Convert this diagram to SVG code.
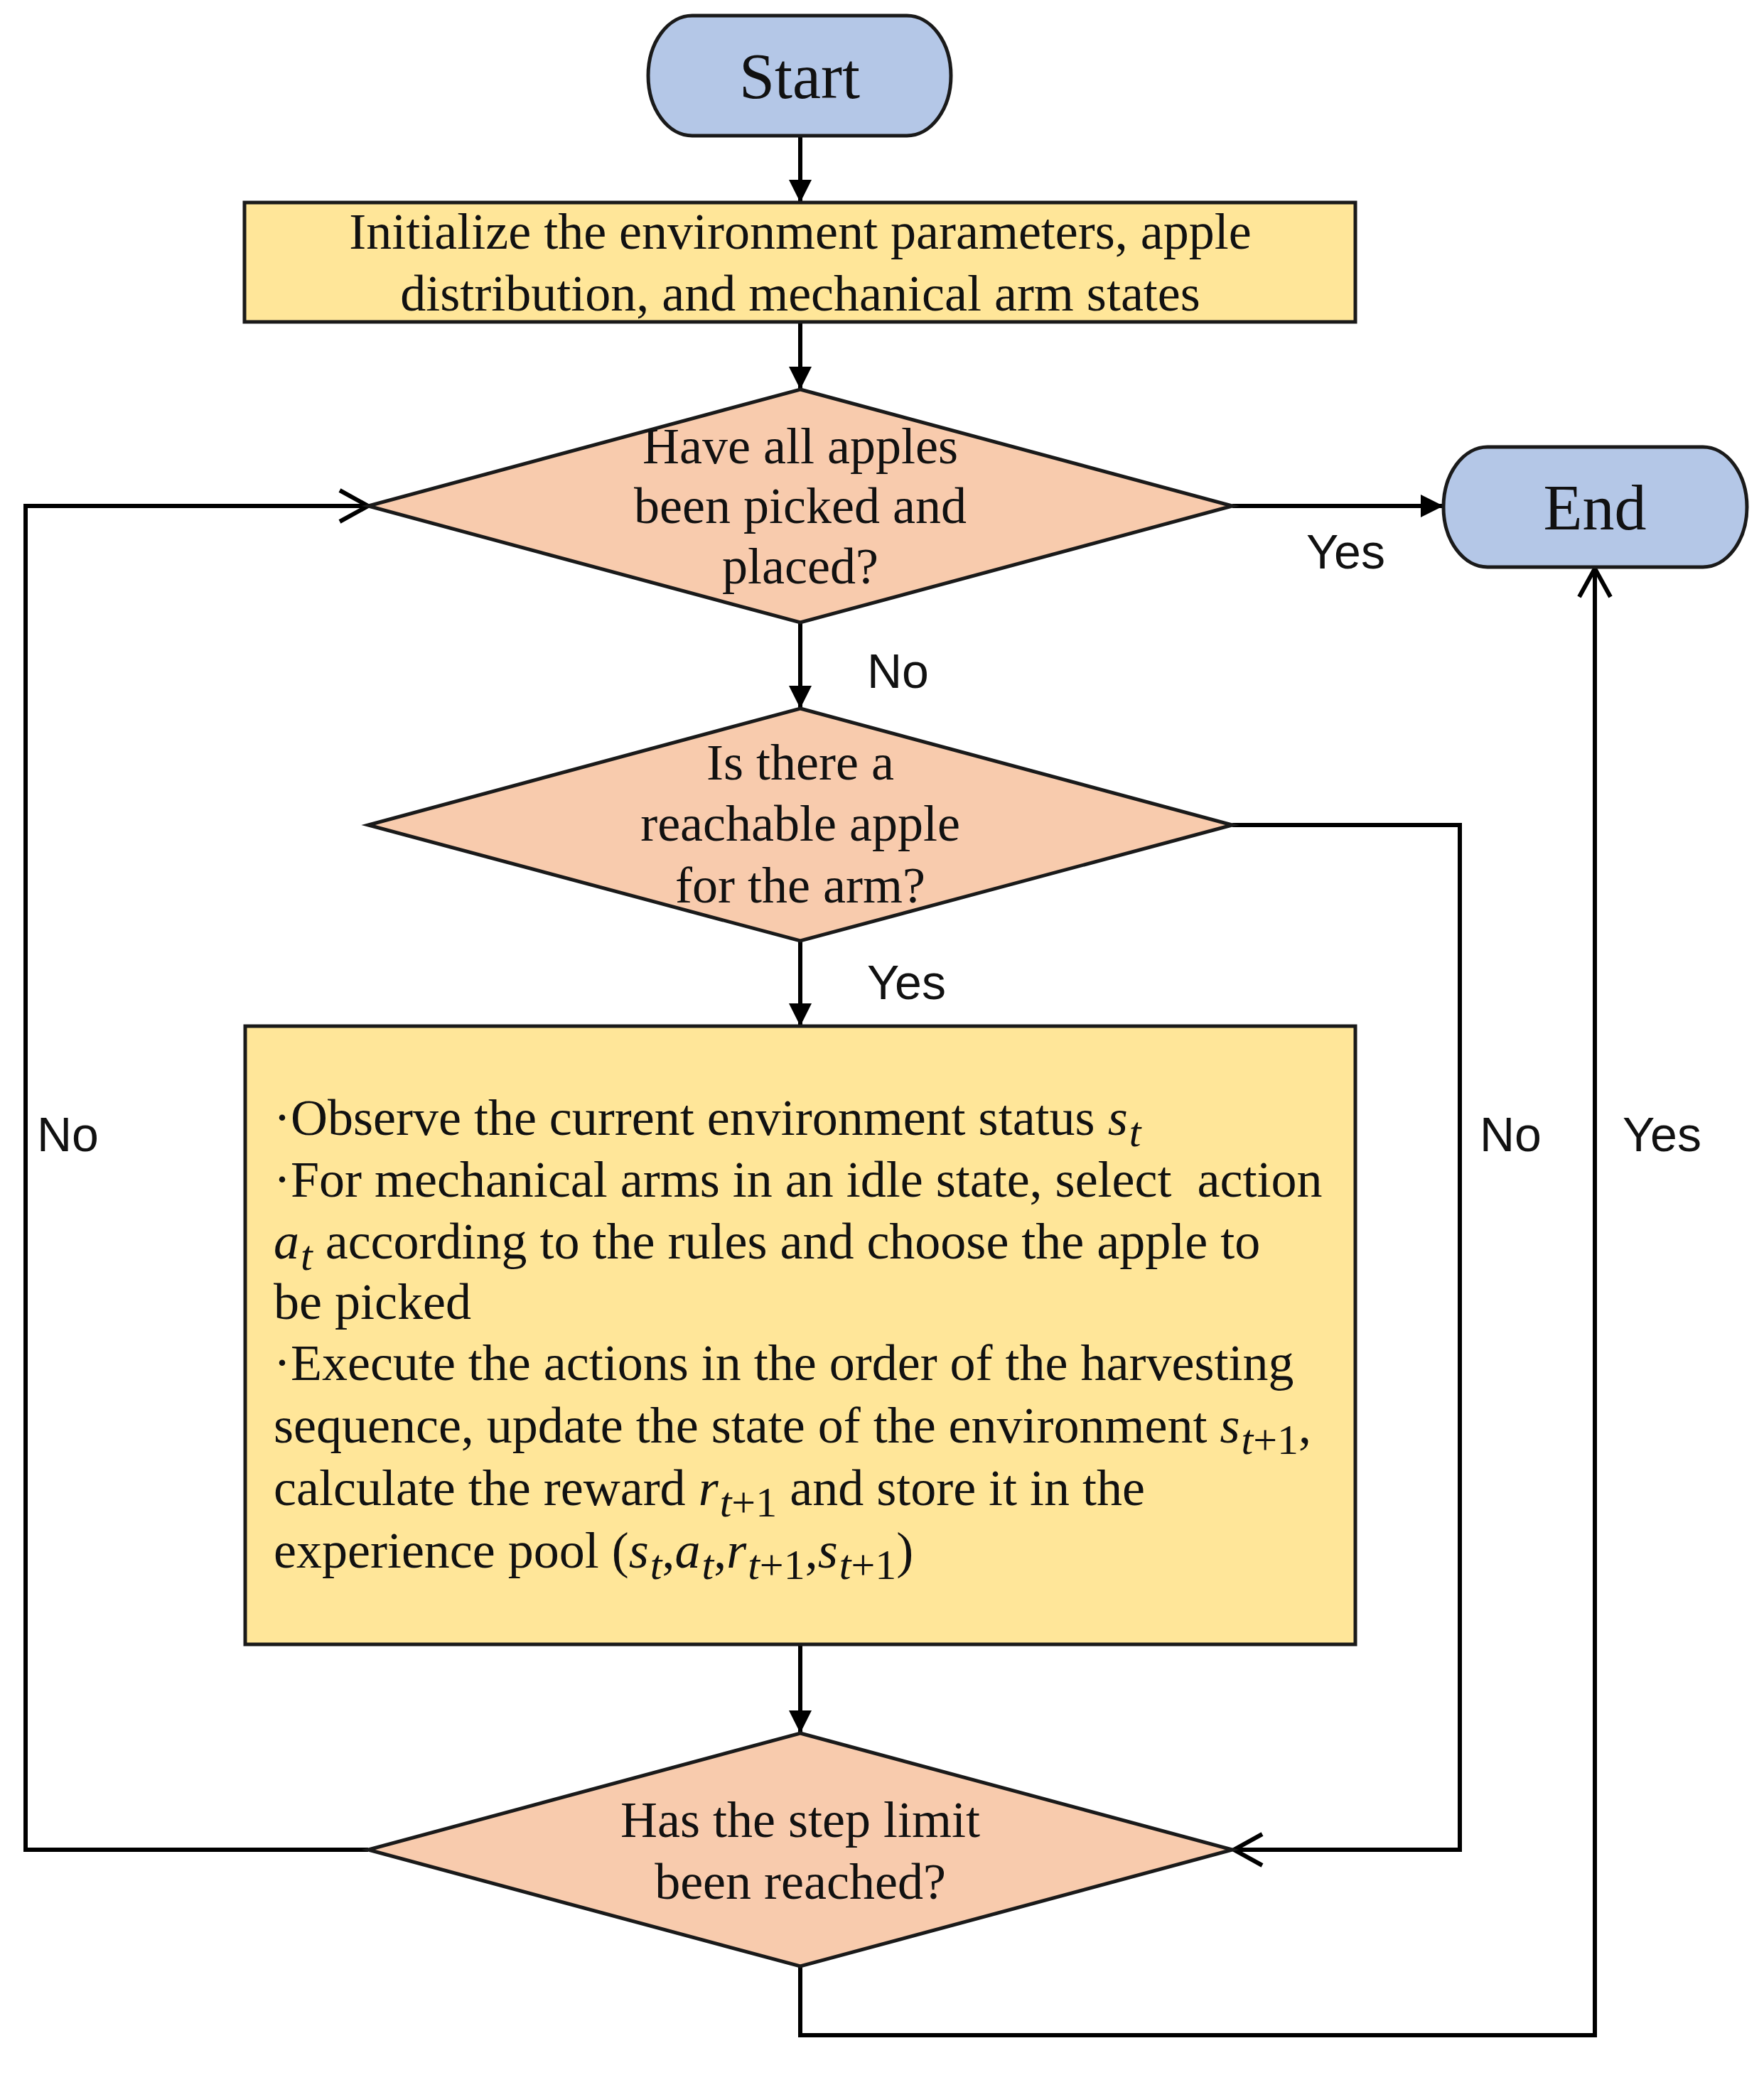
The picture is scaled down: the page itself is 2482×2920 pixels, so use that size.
<svg xmlns="http://www.w3.org/2000/svg" width="2482" height="2920" viewBox="0 0 2482 2920">
<style>
.term{fill:#B4C7E7;stroke:#1a1a1a;stroke-width:5}
.proc{fill:#FFE699;stroke:#1a1a1a;stroke-width:5}
.dec{fill:#F8CBAD;stroke:#1a1a1a;stroke-width:5}
.t{font-family:"Liberation Serif","Times New Roman",serif;font-size:72px;fill:#111;white-space:pre}
.c{text-anchor:middle}
.big{font-size:90px}
.lbl{font-family:"Liberation Sans",Arial,sans-serif;font-size:68px;fill:#111}
.m{font-style:italic}
.s{font-size:60px}
.conn{fill:none;stroke:#000;stroke-width:6}
</style>
<defs>
<marker id="fill" markerUnits="userSpaceOnUse" markerWidth="34" markerHeight="34" refX="32" refY="16" orient="auto" viewBox="0 0 34 34">
<path d="M0,0 L32,16 L0,32 Z" fill="#000"/>
</marker>
<marker id="open" markerUnits="userSpaceOnUse" markerWidth="50" markerHeight="54" refX="44" refY="25" orient="auto" viewBox="0 0 50 54">
<path d="M4,3 L44,25 L4,47" fill="none" stroke="#000" stroke-width="6"/>
</marker>
</defs>
<rect width="2482" height="2920" fill="#fff"/>
<g id="connectors">
<path class="conn" d="M1126,191 L1126,285" marker-end="url(#fill)"/>
<path class="conn" d="M1126,453 L1126,548" marker-end="url(#fill)"/>
<path class="conn" d="M1126,876 L1126,997" marker-end="url(#fill)"/>
<path class="conn" d="M1126,1324 L1126,1444" marker-end="url(#fill)"/>
<path class="conn" d="M1126,2314 L1126,2439" marker-end="url(#fill)"/>
<path class="conn" d="M1734,712 L2031,712" marker-end="url(#fill)"/>
<path class="conn" d="M518,2603 L36,2603 L36,712 L518,712" marker-end="url(#open)"/>
<path class="conn" d="M1734,1161 L2054,1161 L2054,2603 L1736,2603" marker-end="url(#open)"/>
<path class="conn" d="M1126,2767 L1126,2864 L2244,2864 L2244,800" marker-end="url(#open)"/>
<text class="lbl" x="1838" y="800">Yes</text>
<text class="lbl" x="1220" y="968">No</text>
<text class="lbl" x="1220" y="1406">Yes</text>
<text class="lbl" x="52" y="1620">No</text>
<text class="lbl" x="2082" y="1620">No</text>
<text class="lbl" x="2283" y="1620">Yes</text>
</g>
<g id="start">
<rect class="term" x="912" y="22" width="426" height="169" rx="62" ry="84.5"/>
<text class="t c big" x="1125" y="138">Start</text>
</g>
<g id="init">
<rect class="proc" x="344" y="285" width="1563" height="168"/>
<text class="t c" x="1126" y="350">Initialize the environment parameters, apple</text>
<text class="t c" x="1126" y="437">distribution, and mechanical arm states</text>
</g>
<g id="d1">
<polygon class="dec" points="1126,548 1734,712 1126,876 518,712"/>
<text class="t c" x="1126" y="652">Have all apples</text>
<text class="t c" x="1126" y="736">been picked and</text>
<text class="t c" x="1126" y="821">placed?</text>
</g>
<g id="end">
<rect class="term" x="2031" y="629" width="427" height="169" rx="62" ry="84.5"/>
<text class="t c big" x="2244" y="745">End</text>
</g>
<g id="d2">
<polygon class="dec" points="1126,997 1734,1161 1126,1324 518,1161"/>
<text class="t c" x="1126" y="1097">Is there a</text>
<text class="t c" x="1126" y="1183">reachable apple</text>
<text class="t c" x="1126" y="1270">for the arm?</text>
</g>
<g id="action">
<rect class="proc" x="345" y="1444" width="1562" height="870"/>
<text class="t" x="385" y="1597">·Observe the current environment status <tspan class="m">s</tspan><tspan class="m s" dx="2" dy="16">t</tspan></text>
<text class="t" x="385" y="1684">·For mechanical arms in an idle state, select  action</text>
<text class="t" x="385" y="1771"><tspan class="m">a</tspan><tspan class="m s" dx="2" dy="16">t</tspan><tspan dy="-16"> according to the rules and choose the apple to</tspan></text>
<text class="t" x="385" y="1856">be picked</text>
<text class="t" x="385" y="1942">·Execute the actions in the order of the harvesting</text>
<text class="t" x="385" y="2030">sequence, update the state of the environment <tspan class="m">s</tspan><tspan class="m s" dx="2" dy="16">t</tspan><tspan class="s">+1</tspan><tspan dy="-16">,</tspan></text>
<text class="t" x="385" y="2118">calculate the reward <tspan class="m">r</tspan><tspan class="m s" dx="2" dy="16">t</tspan><tspan class="s">+1</tspan><tspan dy="-16"> and store it in the</tspan></text>
<text class="t" x="385" y="2206">experience pool (<tspan class="m">s</tspan><tspan class="m s" dx="2" dy="16">t</tspan><tspan dy="-16">,</tspan><tspan class="m">a</tspan><tspan class="m s" dx="2" dy="16">t</tspan><tspan dy="-16">,</tspan><tspan class="m">r</tspan><tspan class="m s" dx="2" dy="16">t</tspan><tspan class="s">+1</tspan><tspan dy="-16">,</tspan><tspan class="m">s</tspan><tspan class="m s" dx="2" dy="16">t</tspan><tspan class="s">+1</tspan><tspan dy="-16">)</tspan></text>
</g>
<g id="d3">
<polygon class="dec" points="1126,2439 1734,2603 1126,2767 518,2603"/>
<text class="t c" x="1126" y="2585">Has the step limit</text>
<text class="t c" x="1126" y="2672">been reached?</text>
</g>
</svg>
